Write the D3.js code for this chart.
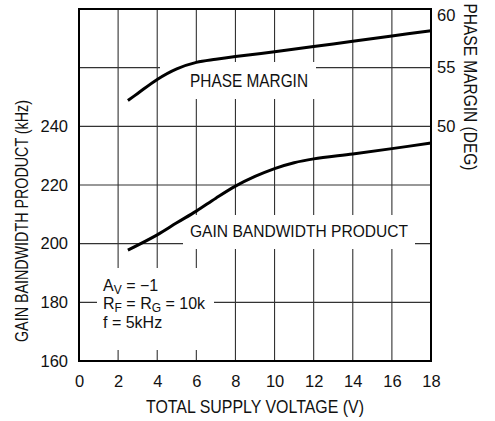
<!DOCTYPE html>
<html>
<head>
<meta charset="utf-8">
<script src="https://cdn.jsdelivr.net/npm/d3@7"></script>
<style>
  body { margin: 0; background: #fff; }
  text { font-family: "Liberation Sans", Arial, sans-serif; fill: #111; }
</style>
</head>
<body>
<svg class="main-svg" width="495" height="421"></svg>
<script>
// values
const xTicks = [0, 2, 4, 6, 8, 10, 12, 14, 16, 18]
const gainTicks = [160, 180, 200, 220, 240]
const gainGrid = [180, 200, 220, 240, 260]
const phaseTicks = [50, 55, 60]

const gainV = [2.5, 4, 5, 6, 7, 8, 9, 10, 11, 12, 14, 16, 18]
const gainBW = [197.8, 203, 207.1, 211.1, 215.5, 219.6, 222.9, 225.6, 227.6, 228.9, 230.6, 232.4, 234.3]

const phaseV = [2.5, 3, 4, 5, 6, 7, 8, 10, 12, 14, 16, 18]
const phaseMargin = [52.2, 52.8, 54.0, 54.9, 55.45, 55.72, 55.95, 56.35, 56.8, 57.25, 57.7, 58.15]

const svg = d3.select('.main-svg')
const x = d3.scaleLinear().domain([0, 18]).range([79, 431])
const yGain = d3.scaleLinear().domain([160, 280]).range([361, 9])
const yPhase = d3.scaleLinear().domain([30, 60]).range([361, 9])

// grid
const grid = svg.append('g').attr('stroke', '#333').attr('stroke-width', 1.1)
grid.selectAll('.vg')
  .data(xTicks.slice(1, -1))
  .enter()
  .append('line')
  .attr('x1', d => x(d)).attr('x2', d => x(d))
  .attr('y1', yGain(280)).attr('y2', yGain(160))
grid.selectAll('.hg')
  .data(gainGrid)
  .enter()
  .append('line')
  .attr('x1', x(0)).attr('x2', x(18))
  .attr('y1', d => yGain(d)).attr('y2', d => yGain(d))

// white boxes behind the labels
const boxes = [
  { x0: 160, y0: 62, x1: 316, y1: 99 },
  { x0: 183, y0: 215, x1: 415, y1: 249 },
  { x0: 97, y0: 268, x1: 214, y1: 350 }
]
svg.selectAll('.box')
  .data(boxes)
  .enter()
  .append('rect')
  .attr('x', d => d.x0).attr('y', d => d.y0)
  .attr('width', d => d.x1 - d.x0).attr('height', d => d.y1 - d.y0)
  .attr('fill', '#fff')

// frame
svg.append('rect')
  .attr('x', x(0)).attr('y', yGain(280))
  .attr('width', x(18) - x(0)).attr('height', yGain(160) - yGain(280))
  .attr('fill', 'none').attr('stroke', '#000').attr('stroke-width', 2)

// axes (labels only)
const xAxis = svg.append('g')
  .attr('transform', `translate(0,${yGain(160)})`)
  .call(d3.axisBottom(x).tickValues(xTicks).tickSize(0).tickPadding(14).tickFormat(d3.format('d')))
const lAxis = svg.append('g')
  .attr('transform', `translate(${x(0)},0)`)
  .call(d3.axisLeft(yGain).tickValues(gainTicks).tickSize(0).tickPadding(11))
const rAxis = svg.append('g')
  .attr('transform', `translate(${x(18)},0)`)
  .call(d3.axisRight(yPhase).tickValues(phaseTicks).tickSize(0).tickPadding(6))
;[xAxis, lAxis, rAxis].forEach(a => {
  a.select('.domain').remove()
  a.selectAll('text').attr('font-size', 16.5).attr('fill', '#111')
    .style('font-family', '"Liberation Sans", Arial, sans-serif')
})
rAxis.selectAll('.tick').filter(d => d === 60).select('text').attr('dy', '0.67em')

// curves
const line = d3.line().curve(d3.curveCatmullRom.alpha(0.5))
svg.append('path')
  .attr('d', line(phaseV.map((v, i) => [x(v), yPhase(phaseMargin[i])])))
  .attr('fill', 'none').attr('stroke', '#000').attr('stroke-width', 3)
svg.append('path')
  .attr('d', line(gainV.map((v, i) => [x(v), yGain(gainBW[i])])))
  .attr('fill', 'none').attr('stroke', '#000').attr('stroke-width', 3)

// axis titles
svg.append('text')
  .attr('x', 255).attr('y', 413)
  .attr('text-anchor', 'middle').attr('font-size', 17.5)
  .attr('textLength', 218).attr('lengthAdjust', 'spacingAndGlyphs')
  .text('TOTAL SUPPLY VOLTAGE (V)')
svg.append('text')
  .attr('transform', 'translate(28,221) rotate(-90)')
  .attr('text-anchor', 'middle').attr('font-size', 17.5)
  .attr('textLength', 242).attr('lengthAdjust', 'spacingAndGlyphs')
  .text('GAIN BAINDWIDTH PRODUCT (kHz)')
svg.append('text')
  .attr('transform', 'translate(464,87) rotate(90)')
  .attr('text-anchor', 'middle').attr('font-size', 17.5)
  .attr('textLength', 167).attr('lengthAdjust', 'spacingAndGlyphs')
  .text('PHASE MARGIN (DEG)')

// curve labels
svg.append('text')
  .attr('x', 190).attr('y', 87).attr('font-size', 17.5)
  .attr('textLength', 118).attr('lengthAdjust', 'spacingAndGlyphs')
  .text('PHASE MARGIN')
svg.append('text')
  .attr('x', 190).attr('y', 237).attr('font-size', 17)
  .attr('textLength', 218).attr('lengthAdjust', 'spacingAndGlyphs')
  .text('GAIN BANDWIDTH PRODUCT')

// test conditions
const notes = svg.append('g').attr('font-size', 16)
const n1 = notes.append('text').attr('x', 103).attr('y', 291)
n1.append('tspan').text('A')
n1.append('tspan').attr('font-size', 12).attr('dy', 3).text('V')
n1.append('tspan').attr('dy', -3).text(' = −1')
const n2 = notes.append('text').attr('x', 103).attr('y', 309)
n2.append('tspan').text('R')
n2.append('tspan').attr('font-size', 12).attr('dy', 3).text('F')
n2.append('tspan').attr('dy', -3).text(' = R')
n2.append('tspan').attr('font-size', 12).attr('dy', 3).text('G')
n2.append('tspan').attr('dy', -3).text(' = 10k')
notes.append('text').attr('x', 103).attr('y', 328).text('f = 5kHz')
</script>
</body>
</html>
